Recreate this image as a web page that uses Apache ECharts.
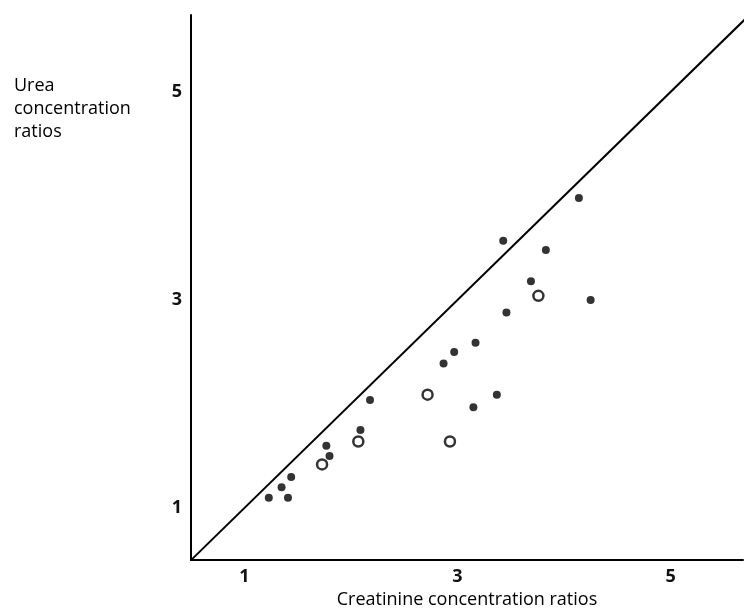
<!DOCTYPE html>
<html>
<head>
<meta charset="utf-8">
<script src="https://cdn.jsdelivr.net/npm/echarts@6/dist/echarts.min.js"></script>
<style>
  html, body { margin: 0; padding: 0; background: #fff; }
  #chart { width: 746px; height: 614px; }
</style>
</head>
<body>
<div id="chart"></div>
<script>
// creatinine ratio (x) vs urea ratio (y)
const filledPoints = [
  [1.23, 1.10], [1.35, 1.20], [1.41, 1.10], [1.44, 1.30],
  [1.77, 1.60], [1.80, 1.50], [2.09, 1.75], [2.18, 2.04],
  [2.87, 2.39], [2.97, 2.50], [3.17, 2.59], [3.15, 1.97],
  [3.37, 2.09], [3.43, 3.57], [3.46, 2.88], [3.69, 3.18],
  [3.83, 3.48], [4.14, 3.98], [4.25, 3.00]
];
const openPoints = [
  [1.73, 1.42], [2.07, 1.64], [2.72, 2.09], [2.93, 1.64], [3.76, 3.04]
];
const equalityLine = [[0.5, 0.5], [5.8, 5.8]];
const tickLabels = [1, 3, 5];

const labelFmt = v => tickLabels.includes(Math.round(v * 100) / 100) ? String(v) : '';
const font = '"Open Sans", sans-serif';

const chart = echarts.init(document.getElementById('chart'));
chart.setOption({
  backgroundColor: '#fff',
  animation: false,
  title: {
    text: 'Urea\nconcentration\nratios',
    left: 9,
    top: 69,
    textStyle: { fontFamily: font, fontSize: 18, fontWeight: 500, color: '#000', lineHeight: 23 }
  },
  grid: { left: 191, right: 0, top: 15, bottom: 52 },
  xAxis: {
    type: 'value',
    min: 0.5,
    max: 5.68,
    interval: 0.5,
    name: 'Creatinine concentration ratios',
    nameLocation: 'middle',
    nameGap: 29,
    nameTextStyle: { fontFamily: font, fontSize: 18, fontWeight: 500, color: '#000' },
    axisLine: { show: true, lineStyle: { color: '#000', width: 2 } },
    axisTick: { show: false },
    splitLine: { show: false },
    axisLabel: { formatter: labelFmt, fontFamily: font, fontSize: 18, fontWeight: 'bold', color: '#111', margin: 8 }
  },
  yAxis: {
    type: 'value',
    min: 0.5,
    max: 5.74,
    interval: 0.5,
    axisLine: { show: true, lineStyle: { color: '#000', width: 2 } },
    axisTick: { show: false },
    splitLine: { show: false },
    axisLabel: { formatter: labelFmt, fontFamily: font, fontSize: 18, fontWeight: 'bold', color: '#111', margin: 9 }
  },
  series: [
    {
      type: 'line',
      data: equalityLine,
      symbol: 'none',
      clip: true,
      lineStyle: { color: '#000', width: 2 }
    },
    {
      type: 'scatter',
      data: filledPoints,
      symbolSize: 8,
      itemStyle: { color: '#000' }
    },
    {
      type: 'scatter',
      data: openPoints,
      symbolSize: 10,
      itemStyle: { color: '#fff', borderColor: '#000', borderWidth: 2.5 }
    }
  ]
});
</script>
</body>
</html>
